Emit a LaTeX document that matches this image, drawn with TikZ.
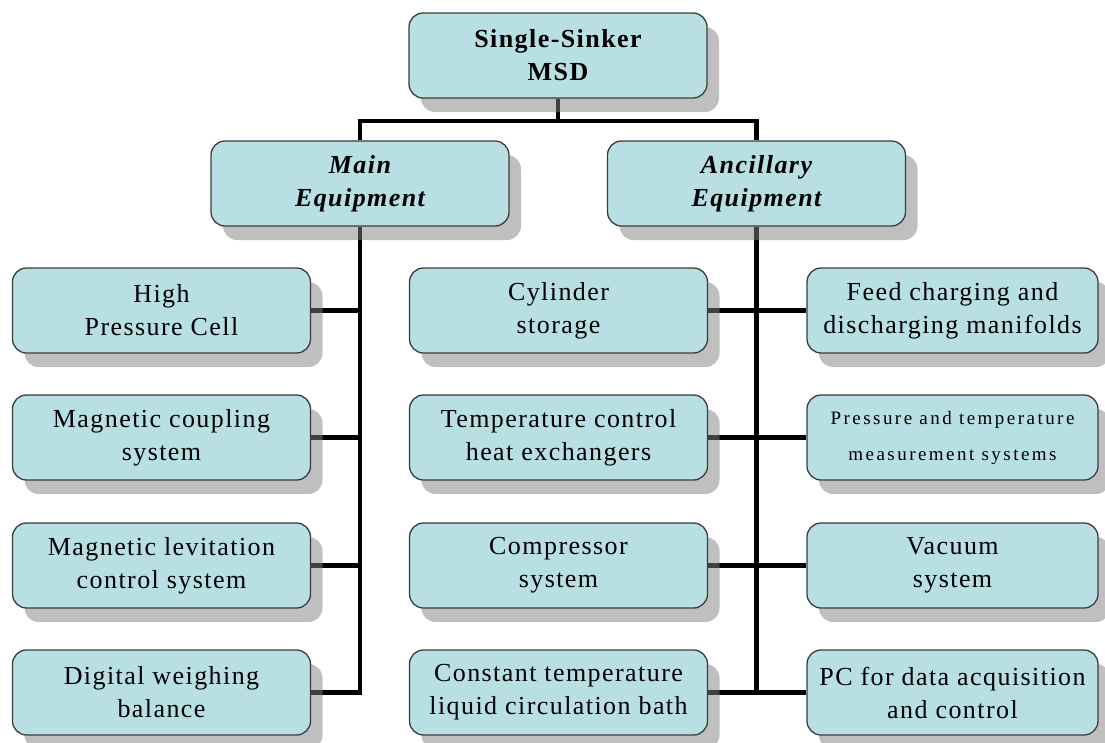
\documentclass[tikz,border=0pt]{standalone}
\usepackage{fontspec}
\newfontfamily\boxfont[LetterSpace=5.5]{Liberation Serif}
\newfontfamily\thinfont[LetterSpace=13]{Liberation Serif}
\usetikzlibrary{shadows,backgrounds}
\definecolor{boxfill}{RGB}{184,223,227}
\definecolor{boxline}{RGB}{60,60,60}
\begin{document}
\begin{tikzpicture}[x=1pt,y=-1pt,
  box/.style={draw=boxline, line width=1.3pt, fill=boxfill, rounded corners=14pt,
    minimum width=298pt, minimum height=85pt, align=center, inner sep=0pt,
    font=\boxfont\fontsize{26}{33}\selectfont,
    drop shadow={shadow xshift=12pt, shadow yshift=-14pt, fill=black!50, opacity=0.5}},
  rbox/.style={box, minimum width=291pt},
  headbox/.style={box, font=\boxfont\fontsize{26}{33}\selectfont\bfseries},
  catbox/.style={box, font=\boxfont\fontsize{26}{33}\selectfont\bfseries\itshape},
  wire/.style={line width=4.5pt, black}]
\useasboundingbox (0,0) rectangle (1105,742);

\node[headbox] (top) at (558,55.5) {Single-Sinker\\MSD};
\node[catbox] (main) at (360,183.5) {Main\\Equipment};
\node[catbox] (anc) at (756.5,183.5) {Ancillary\\Equipment};

\node[box] (l1) at (161.5,310.5) {High\\Pressure Cell};
\node[box] (l2) at (161.5,437.5) {Magnetic coupling\\system};
\node[box] (l3) at (161.5,565.5) {Magnetic levitation\\control system};
\node[box] (l4) at (161.5,692.5) {Digital weighing\\balance};

\node[box] (m1) at (558.5,310.5) {Cylinder\\storage};
\node[box] (m2) at (558.5,437.5) {Temperature control\\heat exchangers};
\node[box] (m3) at (558.5,565.5) {Compressor\\system};
\node[box] (m4) at (558.5,692.5) {Constant temperature\\liquid circulation bath};

\node[rbox] (r1) at (952.5,310.5) {Feed charging and\\discharging manifolds};
\node[rbox, font=\thinfont\fontsize{19}{36}\selectfont] (r2) at (952.5,437.5) {Pressure and temperature\\measurement systems};
\node[rbox] (r3) at (952.5,565.5) {Vacuum\\system};
\node[rbox] (r4) at (952.5,692.5) {PC for data acquisition\\and control};

\coordinate (j) at (558,121);

\begin{scope}[on background layer]
  \draw[wire] (top.south) -- (j);
  \draw[wire] (main.north) |- (j) -| (anc.north);
  \draw[wire] (main.south) |- (l4.east);
  \foreach \n in {l1,l2,l3} {
    \draw[wire] (\n.east) -- (\n.east -| main.south);
  }
  \draw[wire] (anc.south) -- (anc.south |- m4.east);
  \foreach \a/\b in {m1/r1,m2/r2,m3/r3,m4/r4} {
    \draw[wire] (\a.east) -- (\b.west);
  }
\end{scope}
\end{tikzpicture}
\end{document}
